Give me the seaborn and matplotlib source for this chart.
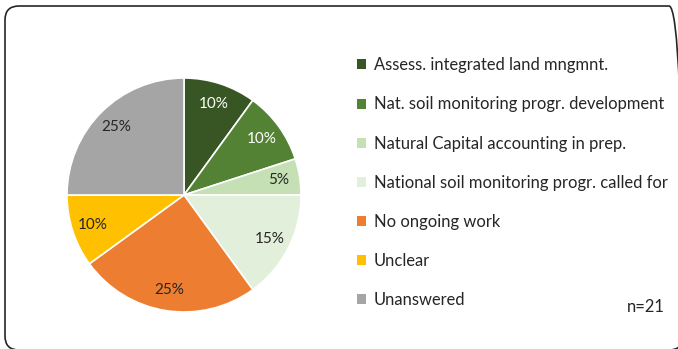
import matplotlib
matplotlib.use("Agg")
import matplotlib.pyplot as plt
from matplotlib.patches import Patch, FancyBboxPatch
from matplotlib.transforms import IdentityTransform
import seaborn as sns

categories = [
    "Assess. integrated land mngmnt.",
    "Nat. soil monitoring progr. development",
    "Natural Capital accounting in prep.",
    "National soil monitoring progr. called for",
    "No ongoing work",
    "Unclear",
    "Unanswered",
]
shares = [10, 10, 5, 15, 25, 10, 25]
colors = ["#375623", "#548235", "#C5E0B4", "#E2EFDA", "#ED7D31", "#FFC000", "#A5A5A5"]
label_colors = ["white", "white", "#262626", "#262626", "#262626", "#262626", "#262626"]
sample_note = "n=21"

sns.set_theme(style="white")
plt.rcParams["font.family"] = ["Lato", "DejaVu Sans"]

W, H = 678, 349
fig = plt.figure(figsize=(W / 100, H / 100), dpi=100)
fig.patch.set_facecolor("white")

# rounded frame around the whole chart (pixel coordinates, origin bottom-left)
frame = FancyBboxPatch((5, -1), 678, H - 5,
                       boxstyle="round,pad=0,rounding_size=14",
                       transform=IdentityTransform(), fill=False,
                       edgecolor="#262626", linewidth=1.2)
fig.patches.append(frame)

cx, cy, r = 184, 195, 117
ax = fig.add_axes([(cx - r) / W, (H - cy - r) / H, 2 * r / W, 2 * r / H])
wedges, texts, autotexts = ax.pie(
    shares, colors=colors, startangle=90, counterclock=False,
    autopct=lambda p: f"{p:.0f}%", pctdistance=0.82,
    wedgeprops=dict(edgecolor="white", linewidth=1.2),
    textprops=dict(fontsize=11),
)
for t, c in zip(autotexts, label_colors):
    t.set_color(c)
ax.set_xlim(-1, 1)
ax.set_ylim(-1, 1)
ax.set_aspect("equal")
ax.axis("off")

handles = [Patch(facecolor=c, edgecolor="none") for c in colors]
fig.legend(handles, categories, loc="upper left",
           bbox_to_anchor=(349 / W, (H - 49) / H), frameon=False,
           fontsize=11.9, handlelength=0.55, handleheight=0.55,
           handletextpad=0.45, labelspacing=1.40, borderpad=0,
           labelcolor="#262626")

fig.text(665 / W, (H - 307) / H, sample_note, ha="right", va="center",
         fontsize=11.9, color="#262626")

fig.savefig("out.png", dpi=100)
